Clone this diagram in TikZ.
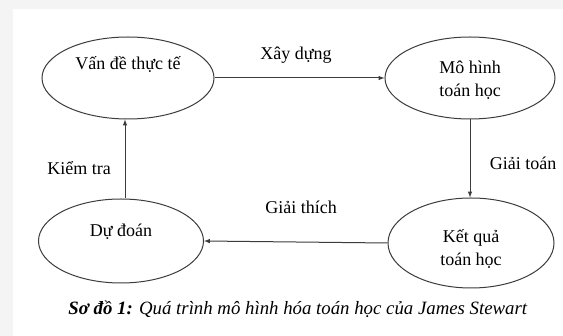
\documentclass[tikz,border=0pt]{standalone}
\usepackage{fontspec}
\setmainfont{Liberation Serif}
\usetikzlibrary{arrows.meta}
\usetikzlibrary{shapes.geometric}

\definecolor{pagegray}{RGB}{244,244,244}
\definecolor{inkgray}{RGB}{60,60,60}

\begin{document}
\begin{tikzpicture}[x=1pt, y=-1pt,
    oval/.style={draw=inkgray, line width=1pt, ellipse, minimum width=172pt, minimum height=82pt, inner sep=0pt},
    lbl/.style={font=\fontsize{18}{23}\selectfont, align=center, inner sep=0pt},
    flow/.style={draw=inkgray, line width=1pt, -latex}]
    \useasboundingbox (0, 0) rectangle (563, 336);
    \fill[pagegray] (0, 0) rectangle (563, 336);
    \fill[white] (13, 9) rectangle (563, 336);

    % the four stages
    \node[oval] (problem) at (128, 78) {};
    \node[oval, minimum width=170pt] (model) at (470, 78) {};
    \node[oval, minimum width=166pt, minimum height=90pt] (result) at (471, 243) {};
    \node[oval, minimum width=165pt, minimum height=84pt] (predict) at (121, 241) {};

    \node[lbl] (problemtext) at (128, 64) {Vấn đề thực tế};
    \node[lbl] (modeltext) at (470, 80) {Mô hình\\toán học};
    \node[lbl] (resulttext) at (471, 249) {Kết quả\\toán học};
    \node[lbl] (predicttext) at (121, 232) {Dự đoán};

    % steps between them
    \draw[flow] (problem.east) -- (model.west);
    \draw[flow] (model.south) -- (model.south |- result.north);
    \draw[flow] (result.west) -- (predict.east);
    \draw[flow] ([xshift=4pt]predict.north) -- ([xshift=4pt]predict.north |- problem.south);

    \node[lbl] (build) at (296, 55) {Xây dựng};
    \node[lbl] (solve) at (523, 163) {Giải toán};
    \node[lbl] (explain) at (301, 207) {Giải thích};
    \node[lbl] (check) at (79, 168) {Kiểm tra};

    \node[lbl, font=\fontsize{18.8}{23}\selectfont] (caption) at (298, 309) {\textbf{\textit{Sơ đồ 1:}} \textit{Quá trình mô hình hóa toán học của James Stewart}};
\end{tikzpicture}
\end{document}
